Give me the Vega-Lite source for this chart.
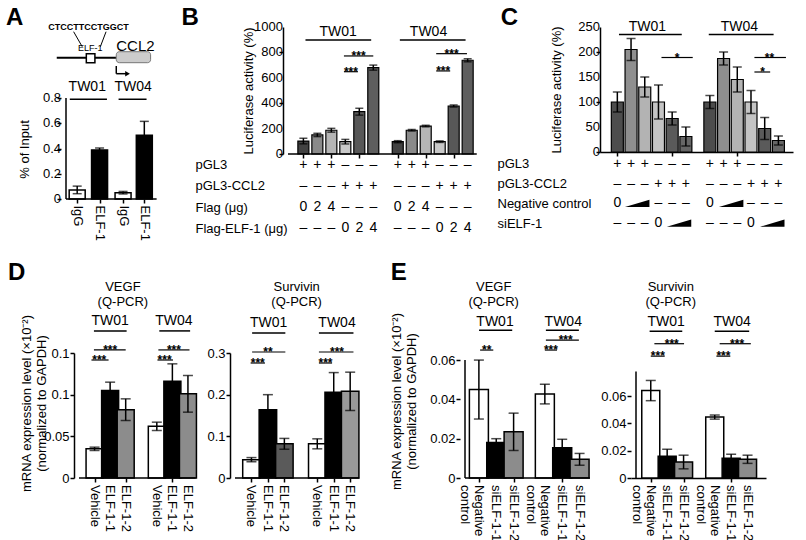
{
"$schema":"https://vega.github.io/schema/vega-lite/v6.json",
"padding":{"left":5,"top":5,"right":5,"bottom":0},
"config":{
 "font":"Liberation Sans",
 "view":{"stroke":null},
 "axis":{"grid":false,"domainColor":"black","domainWidth":1.5,"tickColor":"black","tickWidth":1.5,"tickSize":4,"labelColor":"black","labelFontSize":13,"labelPadding":1,"labelOverlap":false,"titleColor":"black","titleFontSize":13,"titleFontWeight":"normal","titlePadding":2},
 "text":{"color":"black"}
},
"datasets":{
"b_ticks":[{"tick":0},{"tick":200},{"tick":400},{"tick":600},{"tick":800},{"tick":1000}],
"c_ticks":[{"tick":0},{"tick":50},{"tick":100},{"tick":150},{"tick":200},{"tick":250}],
"a_bars":[{"pos":1,"ab":"IgG","cell":"TW01","mean":0.072,"err":0.03},{"pos":2,"ab":"ELF-1","cell":"TW01","mean":0.389,"err":0.015},{"pos":3.05,"ab":"IgG","cell":"TW04","mean":0.05,"err":0.01},{"pos":4,"ab":"ELF-1","cell":"TW04","mean":0.505,"err":0.11}],
"a_tw":[{"x1":0.67,"x2":2.33,"xm":1.45,"y":0.79,"label":"TW01"},{"x1":2.85,"x2":4.1,"xm":3.5,"y":0.79,"label":"TW04"}],
"b_bars":[{"pos":1,"cell":"TW01","k":"c1","mean":102,"err":22},{"pos":2,"cell":"TW01","k":"c2","mean":150,"err":13},{"pos":3,"cell":"TW01","k":"c3","mean":187,"err":15},{"pos":4,"cell":"TW01","k":"c4","mean":97,"err":18},{"pos":5,"cell":"TW01","k":"c5","mean":333,"err":27},{"pos":6,"cell":"TW01","k":"c6","mean":680,"err":20},{"pos":7.75,"cell":"TW04","k":"c1","mean":97,"err":8},{"pos":8.75,"cell":"TW04","k":"c2","mean":187,"err":6},{"pos":9.75,"cell":"TW04","k":"c3","mean":220,"err":6},{"pos":10.75,"cell":"TW04","k":"c4","mean":97,"err":6},{"pos":11.75,"cell":"TW04","k":"c5","mean":378,"err":8},{"pos":12.75,"cell":"TW04","k":"c6","mean":738,"err":12}],
"b_tw":[{"x1":1.15,"x2":5.85,"xm":3.48,"y":898,"label":"TW01"},{"x1":7.9,"x2":12.6,"xm":9.95,"y":898,"label":"TW04"}],
"b_sig":[{"x1":3.9,"x2":6.0,"xm":4.95,"y":772,"label":"***"},{"x1":3.9,"x2":4.9,"xm":4.4,"y":648,"label":"***"},{"x1":10.5,"x2":12.7,"xm":11.6,"y":790,"label":"***"},{"x1":10.5,"x2":11.5,"xm":11.0,"y":654,"label":"***"}],
"b_tab":[
{"row":"pGL3","pos":1,"v":"+"},{"row":"pGL3","pos":2,"v":"+"},{"row":"pGL3","pos":3,"v":"+"},{"row":"pGL3","pos":4,"v":"–"},{"row":"pGL3","pos":5,"v":"–"},{"row":"pGL3","pos":6,"v":"–"},
{"row":"pGL3","pos":7.75,"v":"+"},{"row":"pGL3","pos":8.75,"v":"+"},{"row":"pGL3","pos":9.75,"v":"+"},{"row":"pGL3","pos":10.75,"v":"–"},{"row":"pGL3","pos":11.75,"v":"–"},{"row":"pGL3","pos":12.75,"v":"–"},
{"row":"pGL3-CCL2","pos":1,"v":"–"},{"row":"pGL3-CCL2","pos":2,"v":"–"},{"row":"pGL3-CCL2","pos":3,"v":"–"},{"row":"pGL3-CCL2","pos":4,"v":"+"},{"row":"pGL3-CCL2","pos":5,"v":"+"},{"row":"pGL3-CCL2","pos":6,"v":"+"},
{"row":"pGL3-CCL2","pos":7.75,"v":"–"},{"row":"pGL3-CCL2","pos":8.75,"v":"–"},{"row":"pGL3-CCL2","pos":9.75,"v":"–"},{"row":"pGL3-CCL2","pos":10.75,"v":"+"},{"row":"pGL3-CCL2","pos":11.75,"v":"+"},{"row":"pGL3-CCL2","pos":12.75,"v":"+"},
{"row":"Flag (μg)","pos":1,"v":"0"},{"row":"Flag (μg)","pos":2,"v":"2"},{"row":"Flag (μg)","pos":3,"v":"4"},{"row":"Flag (μg)","pos":4,"v":"–"},{"row":"Flag (μg)","pos":5,"v":"–"},{"row":"Flag (μg)","pos":6,"v":"–"},
{"row":"Flag (μg)","pos":7.75,"v":"0"},{"row":"Flag (μg)","pos":8.75,"v":"2"},{"row":"Flag (μg)","pos":9.75,"v":"4"},{"row":"Flag (μg)","pos":10.75,"v":"–"},{"row":"Flag (μg)","pos":11.75,"v":"–"},{"row":"Flag (μg)","pos":12.75,"v":"–"},
{"row":"Flag-ELF-1 (μg)","pos":1,"v":"–"},{"row":"Flag-ELF-1 (μg)","pos":2,"v":"–"},{"row":"Flag-ELF-1 (μg)","pos":3,"v":"–"},{"row":"Flag-ELF-1 (μg)","pos":4,"v":"0"},{"row":"Flag-ELF-1 (μg)","pos":5,"v":"2"},{"row":"Flag-ELF-1 (μg)","pos":6,"v":"4"},
{"row":"Flag-ELF-1 (μg)","pos":7.75,"v":"–"},{"row":"Flag-ELF-1 (μg)","pos":8.75,"v":"–"},{"row":"Flag-ELF-1 (μg)","pos":9.75,"v":"–"},{"row":"Flag-ELF-1 (μg)","pos":10.75,"v":"0"},{"row":"Flag-ELF-1 (μg)","pos":11.75,"v":"2"},{"row":"Flag-ELF-1 (μg)","pos":12.75,"v":"4"}],
"c_bars":[{"pos":1,"cell":"TW01","k":"c1","mean":100,"err":20},{"pos":2,"cell":"TW01","k":"c2","mean":205,"err":22},{"pos":3,"cell":"TW01","k":"c3","mean":130,"err":20},{"pos":4,"cell":"TW01","k":"c4","mean":100,"err":34},{"pos":5,"cell":"TW01","k":"c5","mean":67,"err":13},{"pos":6,"cell":"TW01","k":"c6","mean":31,"err":19},{"pos":7.75,"cell":"TW04","k":"c1","mean":100,"err":13},{"pos":8.75,"cell":"TW04","k":"c2","mean":187,"err":13},{"pos":9.75,"cell":"TW04","k":"c3","mean":145,"err":25},{"pos":10.75,"cell":"TW04","k":"c4","mean":100,"err":23},{"pos":11.75,"cell":"TW04","k":"c5","mean":47,"err":22},{"pos":12.75,"cell":"TW04","k":"c6","mean":23,"err":9}],
"c_tw":[{"x1":1.12,"x2":5.7,"xm":3.2,"y":235,"label":"TW01"},{"x1":7.67,"x2":12.4,"xm":9.9,"y":235,"label":"TW04"}],
"c_sig":[{"x1":4.22,"x2":6.5,"xm":5.35,"y":189,"label":"*"},{"x1":11.0,"x2":13.3,"xm":12.1,"y":189,"label":"**"},{"x1":11.0,"x2":12.15,"xm":11.6,"y":160,"label":"*"}],
"c_tab":[
{"row":"pGL3","pos":1,"v":"+"},{"row":"pGL3","pos":2,"v":"+"},{"row":"pGL3","pos":3,"v":"+"},{"row":"pGL3","pos":4,"v":"–"},{"row":"pGL3","pos":5,"v":"–"},{"row":"pGL3","pos":6,"v":"–"},
{"row":"pGL3","pos":7.75,"v":"+"},{"row":"pGL3","pos":8.75,"v":"+"},{"row":"pGL3","pos":9.75,"v":"+"},{"row":"pGL3","pos":10.75,"v":"–"},{"row":"pGL3","pos":11.75,"v":"–"},{"row":"pGL3","pos":12.75,"v":"–"},
{"row":"pGL3-CCL2","pos":1,"v":"–"},{"row":"pGL3-CCL2","pos":2,"v":"–"},{"row":"pGL3-CCL2","pos":3,"v":"–"},{"row":"pGL3-CCL2","pos":4,"v":"+"},{"row":"pGL3-CCL2","pos":5,"v":"+"},{"row":"pGL3-CCL2","pos":6,"v":"+"},
{"row":"pGL3-CCL2","pos":7.75,"v":"–"},{"row":"pGL3-CCL2","pos":8.75,"v":"–"},{"row":"pGL3-CCL2","pos":9.75,"v":"–"},{"row":"pGL3-CCL2","pos":10.75,"v":"+"},{"row":"pGL3-CCL2","pos":11.75,"v":"+"},{"row":"pGL3-CCL2","pos":12.75,"v":"+"},
{"row":"Negative control","pos":1,"v":"0"},{"row":"Negative control","pos":4,"v":"–"},{"row":"Negative control","pos":5,"v":"–"},{"row":"Negative control","pos":6,"v":"–"},
{"row":"Negative control","pos":7.75,"v":"0"},{"row":"Negative control","pos":10.75,"v":"–"},{"row":"Negative control","pos":11.75,"v":"–"},{"row":"Negative control","pos":12.75,"v":"–"},
{"row":"siELF-1","pos":1,"v":"–"},{"row":"siELF-1","pos":2,"v":"–"},{"row":"siELF-1","pos":3,"v":"–"},{"row":"siELF-1","pos":4,"v":"0"},
{"row":"siELF-1","pos":7.75,"v":"–"},{"row":"siELF-1","pos":8.75,"v":"–"},{"row":"siELF-1","pos":9.75,"v":"–"},{"row":"siELF-1","pos":10.75,"v":"0"}],
"c_wedge":[{"row":"Negative control","pos":2.45},{"row":"Negative control","pos":9.3},{"row":"siELF-1","pos":5.5},{"row":"siELF-1","pos":12.3}],
"dv":[{"pos":1,"cell":"TW01","treat":"Vehicle","mean":0.035,"err":0.002},{"pos":2,"cell":"TW01","treat":"ELF-1-1","mean":0.105,"err":0.01},{"pos":3,"cell":"TW01","treat":"ELF-1-2","mean":0.082,"err":0.013},{"pos":5,"cell":"TW04","treat":"Vehicle","mean":0.062,"err":0.005},{"pos":6,"cell":"TW04","treat":"ELF-1-1","mean":0.116,"err":0.021},{"pos":7,"cell":"TW04","treat":"ELF-1-2","mean":0.101,"err":0.022}],
"dv_tw":[{"x1":0.96,"x2":3.06,"xm":2.0,"y":0.1765,"label":"TW01"},{"x1":5.16,"x2":7.14,"xm":6.1,"y":0.1765,"label":"TW04"}],
"dv_sig":[{"x1":0.96,"x2":3.0,"xm":2.0,"y":0.1537,"label":"***"},{"x1":0.8,"x2":1.9,"xm":1.3,"y":0.1416,"label":"***"},{"x1":5.1,"x2":7.1,"xm":6.1,"y":0.1537,"label":"***"},{"x1":5.04,"x2":6.04,"xm":5.5,"y":0.1416,"label":"***"}],
"ds":[{"pos":1,"cell":"TW01","treat":"Vehicle","mean":0.044,"err":0.005},{"pos":2,"cell":"TW01","treat":"ELF-1-1","mean":0.164,"err":0.036},{"pos":3,"cell":"TW01","treat":"ELF-1-2","mean":0.082,"err":0.013},{"pos":5,"cell":"TW04","treat":"Vehicle","mean":0.082,"err":0.012},{"pos":6,"cell":"TW04","treat":"ELF-1-1","mean":0.206,"err":0.047},{"pos":7,"cell":"TW04","treat":"ELF-1-2","mean":0.208,"err":0.046}],
"ds_tw":[{"x1":1.04,"x2":3.06,"xm":2.05,"y":0.348,"label":"TW01"},{"x1":5.1,"x2":7.2,"xm":6.2,"y":0.348,"label":"TW04"}],
"ds_sig":[{"x1":1.04,"x2":3.06,"xm":2.0,"y":0.3024,"label":"**"},{"x1":0.95,"x2":1.82,"xm":1.38,"y":0.276,"label":"***"},{"x1":5.1,"x2":7.2,"xm":6.2,"y":0.3024,"label":"***"},{"x1":5.1,"x2":5.9,"xm":5.5,"y":0.276,"label":"***"}],
"ev":[{"pos":1,"cell":"TW01","treat":"Negative control","mean":0.045,"err":0.015},{"pos":2,"cell":"TW01","treat":"siELF-1-1","mean":0.018,"err":0.002},{"pos":3,"cell":"TW01","treat":"siELF-1-2","mean":0.0235,"err":0.0095},{"pos":4.8,"cell":"TW04","treat":"Negative control","mean":0.0427,"err":0.005},{"pos":5.8,"cell":"TW04","treat":"siELF-1-1","mean":0.0154,"err":0.0043},{"pos":6.8,"cell":"TW04","treat":"siELF-1-2","mean":0.0095,"err":0.003}],
"ev_tw":[{"x1":1.01,"x2":2.92,"xm":1.93,"y":0.0752,"label":"TW01"},{"x1":4.86,"x2":6.76,"xm":5.86,"y":0.0752,"label":"TW04"}],
"ev_sig":[{"x1":1.07,"x2":1.83,"xm":1.45,"y":0.0651,"label":"**"},{"x1":4.86,"x2":6.76,"xm":6.0,"y":0.0702,"label":"***"},{"x1":4.8,"x2":5.5,"xm":5.15,"y":0.0651,"label":"***"}],
"es":[{"pos":1,"cell":"TW01","treat":"Negative control","mean":0.064,"err":0.0074},{"pos":2,"cell":"TW01","treat":"siELF-1-1","mean":0.016,"err":0.005},{"pos":3,"cell":"TW01","treat":"siELF-1-2","mean":0.0117,"err":0.005},{"pos":4.9,"cell":"TW04","treat":"Negative control","mean":0.0446,"err":0.0015},{"pos":5.9,"cell":"TW04","treat":"siELF-1-1","mean":0.0144,"err":0.003},{"pos":6.9,"cell":"TW04","treat":"siELF-1-2","mean":0.0137,"err":0.003}],
"es_tw":[{"x1":0.93,"x2":2.92,"xm":1.94,"y":0.1075,"label":"TW01"},{"x1":4.9,"x2":7.0,"xm":5.96,"y":0.1075,"label":"TW04"}],
"es_sig":[{"x1":1.22,"x2":3.03,"xm":2.28,"y":0.0983,"label":"***"},{"x1":1.0,"x2":1.85,"xm":1.43,"y":0.0892,"label":"***"},{"x1":5.2,"x2":7.1,"xm":6.26,"y":0.0983,"label":"***"},{"x1":5.0,"x2":5.85,"xm":5.43,"y":0.0892,"label":"***"}]
},
"spacing":20,
"resolve":{"scale":{"color":"independent"}},
"vconcat":[
{"hconcat":[
{"width":217,"height":172,
 "layer":[
  {"data":{"name":"a_bars"},"mark":{"type":"bar","orient":"vertical","width":16,"stroke":"black","strokeWidth":1.5},
   "encoding":{"x":{"field":"pos","type":"quantitative","scale":{"domain":[0.5,9.751],"nice":false,"zero":false},"axis":{"values":[1,2,3.05,4],"labelAngle":90,"labelExpr":"round(datum.value) % 2 == 1 ? 'IgG' : 'ELF-1'","title":null,"labelPadding":2,"domain":false,"labelOverlap":false}},
    "y":{"field":"mean","type":"quantitative","scale":{"domain":[0,1.3624],"nice":false},"axis":{"values":[0,0.2,0.4,0.6,0.8],"labels":false,"title":"% of Input","domain":false,"titleY":122,"titleX":-30}},
    "color":{"field":"ab","type":"nominal","scale":{"domain":["IgG","ELF-1"],"range":["white","black"]},"legend":null}}},
  {"data":{"name":"a_bars"},"mark":{"type":"errorbar","ticks":true,"size":9,"thickness":1.5,"color":"black"},
   "encoding":{"x":{"field":"pos","type":"quantitative","title":null},"y":{"field":"mean","type":"quantitative","title":"% of Input"},"yError":{"field":"err"}}},
  {"data":{"values":[{}]},"mark":{"type":"text","text":"0","fontSize":13,"align":"right","baseline":"middle","dx":-5,"color":"black"},"encoding":{"x":{"datum":0.5,"type":"quantitative"},"y":{"datum":0,"type":"quantitative"}}},
  {"data":{"values":[{}]},"mark":{"type":"text","text":"0.2","fontSize":13,"align":"right","baseline":"middle","dx":-5,"color":"black"},"encoding":{"x":{"datum":0.5,"type":"quantitative"},"y":{"datum":0.2,"type":"quantitative"}}},
  {"data":{"values":[{}]},"mark":{"type":"text","text":"0.4","fontSize":13,"align":"right","baseline":"middle","dx":-5,"color":"black"},"encoding":{"x":{"datum":0.5,"type":"quantitative"},"y":{"datum":0.4,"type":"quantitative"}}},
  {"data":{"values":[{}]},"mark":{"type":"text","text":"0.6","fontSize":13,"align":"right","baseline":"middle","dx":-5,"color":"black"},"encoding":{"x":{"datum":0.5,"type":"quantitative"},"y":{"datum":0.6,"type":"quantitative"}}},
  {"data":{"values":[{}]},"mark":{"type":"text","text":"0.8","fontSize":13,"align":"right","baseline":"middle","dx":-5,"color":"black"},"encoding":{"x":{"datum":0.5,"type":"quantitative"},"y":{"datum":0.8,"type":"quantitative"}}},
  {"data":{"values":[{}]},"mark":{"type":"rule","strokeWidth":1.5,"color":"black"},"encoding":{"x":{"datum":0.5,"type":"quantitative"},"y":{"datum":0,"type":"quantitative"},"y2":{"datum":0.8}}},
  {"data":{"values":[{}]},"mark":{"type":"rule","strokeWidth":1.5,"color":"black"},"encoding":{"x":{"datum":0.5,"type":"quantitative"},"x2":{"datum":4.55},"y":{"datum":0,"type":"quantitative"}}},
  {"data":{"name":"a_tw"},"mark":{"type":"rule","strokeWidth":1.5,"color":"black"},
   "encoding":{"x":{"field":"x1","type":"quantitative","title":null},"x2":{"field":"x2"},"y":{"field":"y","type":"quantitative","title":"% of Input"}}},
  {"data":{"name":"a_tw"},"mark":{"type":"text","fontSize":14,"baseline":"alphabetic","dy":-8,"color":"black"},
   "encoding":{"x":{"field":"xm","type":"quantitative","title":null},"y":{"field":"y","type":"quantitative","title":"% of Input"},"text":{"field":"label"}}},
  {"data":{"values":[{"x":0.0865,"y":1.1192,"x2":2.7467,"y2":1.1192}]},"mark":{"type":"rule","strokeWidth":2,"color":"black"},
   "encoding":{"x":{"field":"x","type":"quantitative","title":null},"y":{"field":"y","type":"quantitative","title":"% of Input"},"x2":{"field":"x2"},"y2":{"field":"y2"}}},
  {"data":{"values":[{"x":0.841,"y":1.3251,"x2":1.225,"y2":1.2063},{"x":2.29,"y":1.3251,"x2":2.035,"y2":1.2063}]},"mark":{"type":"rule","strokeWidth":1,"color":"black"},
   "encoding":{"x":{"field":"x","type":"quantitative","title":null},"y":{"field":"y","type":"quantitative","title":"% of Input"},"x2":{"field":"x2"},"y2":{"field":"y2"}}},
  {"data":{"values":[{"x":2.747,"y":1.0535,"x2":2.747,"y2":0.9925},{"x":2.747,"y":0.9925,"x2":3.186,"y2":0.9925}]},"mark":{"type":"rule","strokeWidth":1.5,"color":"black"},
   "encoding":{"x":{"field":"x","type":"quantitative","title":null},"y":{"field":"y","type":"quantitative","title":"% of Input"},"x2":{"field":"x2"},"y2":{"field":"y2"}}},
  {"data":{"values":[{"x":3.25,"y":0.9925}]},"mark":{"type":"point","shape":"triangle-right","size":30,"filled":true,"color":"black","opacity":1},
   "encoding":{"x":{"field":"x","type":"quantitative","title":null},"y":{"field":"y","type":"quantitative","title":"% of Input"}}},
  {"data":{"values":[{"x":1.408,"x2":1.792,"y":1.1509,"y2":1.0796}]},"mark":{"type":"rect","fill":"white","stroke":"black","strokeWidth":1.5},
   "encoding":{"x":{"field":"x","type":"quantitative","title":null},"y":{"field":"y","type":"quantitative","title":"% of Input"},"x2":{"field":"x2"},"y2":{"field":"y2"}}},
  {"data":{"values":[{"x":2.747,"x2":4.281,"y":1.1667,"y2":1.0796}]},"mark":{"type":"rect","fill":"#cccccc","stroke":"#777777","strokeWidth":1,"cornerRadius":3},
   "encoding":{"x":{"field":"x","type":"quantitative","title":null},"y":{"field":"y","type":"quantitative","title":"% of Input"},"x2":{"field":"x2"},"y2":{"field":"y2"}}},
  {"data":{"values":[{"x":1.51,"y":1.3663,"s":"CTCCTTCCTGGCT"}]},"mark":{"type":"text","fontSize":9,"fontWeight":"bold","baseline":"middle","color":"black"},
   "encoding":{"x":{"field":"x","type":"quantitative","title":null},"y":{"field":"y","type":"quantitative","title":"% of Input"},"text":{"field":"s"}}},
  {"data":{"values":[{"x":1.579,"y":1.1965,"s":"ELF-1"}]},"mark":{"type":"text","fontSize":9,"baseline":"middle","color":"black"},
   "encoding":{"x":{"field":"x","type":"quantitative","title":null},"y":{"field":"y","type":"quantitative","title":"% of Input"},"text":{"field":"s"}}},
  {"data":{"values":[{"x":3.604,"y":1.2143,"s":"CCL2"}]},"mark":{"type":"text","fontSize":15,"baseline":"middle","color":"black"},
   "encoding":{"x":{"field":"x","type":"quantitative","title":null},"y":{"field":"y","type":"quantitative","title":"% of Input"},"text":{"field":"s"}}},
  {"data":{"values":[{}]},"mark":{"type":"text","text":"A","fontSize":24,"fontWeight":"bold","align":"left","baseline":"top","color":"black"},"encoding":{"x":{"datum":-2.186,"type":"quantitative"},"y":{"datum":1.5287,"type":"quantitative"}}}
 ]},
{"width":312,"height":127,
 "resolve":{"scale":{"y":"independent"}},
 "layer":[
  {"layer":[
   {"data":{"name":"b_bars"},"mark":{"type":"bar","orient":"vertical","width":11,"stroke":"black","strokeWidth":1.2},
    "encoding":{"x":{"field":"pos","type":"quantitative","scale":{"domain":[-0.1,21.5],"nice":false,"zero":false},"axis":{"values":[1,2,3,4,5,6,7.75,8.75,9.75,10.75,11.75,12.75],"labels":false,"title":null,"domain":false}},
     "y":{"field":"mean","type":"quantitative","scale":{"domain":[0,1000],"nice":false},"axis":{"values":[0,200,400,600,800,1000],"labels":false,"title":"Luciferase activity (%)","titleX":-28}},
     "color":{"field":"k","type":"nominal","scale":{"domain":["c1","c2","c3","c4","c5","c6"],"range":["#424242","#8a8a8a","#b5b5b5","#c9c9c9","#585858","#5e5e5e"]},"legend":null}}},
   {"data":{"name":"b_bars"},"mark":{"type":"errorbar","ticks":true,"size":8,"thickness":1.5,"color":"black"},
    "encoding":{"x":{"field":"pos","type":"quantitative","title":null},"y":{"field":"mean","type":"quantitative","title":"Luciferase activity (%)"},"yError":{"field":"err"}}},
   {"data":{"name":"b_ticks"},"mark":{"type":"text","fontSize":13,"align":"right","baseline":"middle","dx":-5,"color":"black"},
    "encoding":{"x":{"datum":-0.1,"type":"quantitative"},"y":{"field":"tick","type":"quantitative","title":"Luciferase activity (%)"},"text":{"field":"tick","type":"quantitative","format":"~g"}}},
   {"data":{"values":[{}]},"mark":{"type":"rule","strokeWidth":1.5,"color":"black"},"encoding":{"x":{"datum":-0.1,"type":"quantitative"},"x2":{"datum":13.4},"y":{"datum":0,"type":"quantitative"}}},
   {"data":{"name":"b_tw"},"mark":{"type":"rule","strokeWidth":1.5,"color":"black"},
    "encoding":{"x":{"field":"x1","type":"quantitative","title":null},"x2":{"field":"x2"},"y":{"field":"y","type":"quantitative","title":"Luciferase activity (%)"}}},
   {"data":{"name":"b_tw"},"mark":{"type":"text","fontSize":14,"baseline":"alphabetic","dy":-4,"color":"black"},
    "encoding":{"x":{"field":"xm","type":"quantitative","title":null},"y":{"field":"y","type":"quantitative","title":"Luciferase activity (%)"},"text":{"field":"label"}}},
   {"data":{"name":"b_sig"},"mark":{"type":"rule","strokeWidth":1.2,"color":"black"},
    "encoding":{"x":{"field":"x1","type":"quantitative","title":null},"x2":{"field":"x2"},"y":{"field":"y","type":"quantitative","title":"Luciferase activity (%)"}}},
   {"data":{"name":"b_sig"},"mark":{"type":"text","fontSize":12,"fontWeight":"bold","baseline":"alphabetic","dy":4,"color":"black"},
    "encoding":{"x":{"field":"xm","type":"quantitative","title":null},"y":{"field":"y","type":"quantitative","title":"Luciferase activity (%)"},"text":{"field":"label"}}},
   {"data":{"values":[{}]},"mark":{"type":"text","text":"B","fontSize":24,"fontWeight":"bold","align":"left","baseline":"top","color":"black"},"encoding":{"x":{"datum":-7.716,"type":"quantitative"},"y":{"datum":1165.4,"type":"quantitative"}}}
  ]},
  {"data":{"name":"b_tab"},"mark":{"type":"text","fontSize":14,"color":"black"},
   "encoding":{"x":{"field":"pos","type":"quantitative","title":null},
    "y":{"field":"row","type":"nominal","sort":["pGL3","pGL3-CCL2","Flag (μg)","Flag-ELF-1 (μg)"],"scale":{"type":"point","range":[137.6,201.4],"padding":0},"axis":{"orient":"left","title":null,"domain":false,"ticks":false,"labelAlign":"left","labelPadding":88,"labelFontSize":13,"labelOverlap":false}},
    "text":{"field":"v","type":"nominal"}}}
 ]},
{"width":193,"height":125,
 "resolve":{"scale":{"y":"independent"}},
 "layer":[
  {"layer":[
   {"data":{"name":"c_bars"},"mark":{"type":"bar","orient":"vertical","width":12,"stroke":"black","strokeWidth":1.2},
    "encoding":{"x":{"field":"pos","type":"quantitative","scale":{"domain":[0.1,13.45],"nice":false,"zero":false},"axis":{"values":[1,2,3,4,5,6,7.75,8.75,9.75,10.75,11.75,12.75],"labels":false,"title":null}},
     "y":{"field":"mean","type":"quantitative","scale":{"domain":[0,250],"nice":false},"axis":{"values":[0,50,100,150,200,250],"labels":false,"title":"Luciferase activity (%)","titleX":-37}},
     "color":{"field":"k","type":"nominal","scale":{"domain":["c1","c2","c3","c4","c5","c6"],"range":["#4d4d4d","#8f8f8f","#b3b3b3","#c4c4c4","#5a5a5a","#666666"]},"legend":null}}},
   {"data":{"name":"c_bars"},"mark":{"type":"errorbar","ticks":true,"size":9,"thickness":1.5,"color":"black"},
    "encoding":{"x":{"field":"pos","type":"quantitative","title":null},"y":{"field":"mean","type":"quantitative","title":"Luciferase activity (%)"},"yError":{"field":"err"}}},
   {"data":{"name":"c_ticks"},"mark":{"type":"text","fontSize":13,"align":"right","baseline":"middle","dx":-5,"color":"black"},
    "encoding":{"x":{"datum":0.1,"type":"quantitative"},"y":{"field":"tick","type":"quantitative","title":"Luciferase activity (%)"},"text":{"field":"tick","type":"quantitative","format":"~g"}}},
   {"data":{"name":"c_tw"},"mark":{"type":"rule","strokeWidth":1.5,"color":"black"},
    "encoding":{"x":{"field":"x1","type":"quantitative","title":null},"x2":{"field":"x2"},"y":{"field":"y","type":"quantitative","title":"Luciferase activity (%)"}}},
   {"data":{"name":"c_tw"},"mark":{"type":"text","fontSize":14,"baseline":"alphabetic","dy":-4,"color":"black"},
    "encoding":{"x":{"field":"xm","type":"quantitative","title":null},"y":{"field":"y","type":"quantitative","title":"Luciferase activity (%)"},"text":{"field":"label"}}},
   {"data":{"name":"c_sig"},"mark":{"type":"rule","strokeWidth":1.2,"color":"black"},
    "encoding":{"x":{"field":"x1","type":"quantitative","title":null},"x2":{"field":"x2"},"y":{"field":"y","type":"quantitative","title":"Luciferase activity (%)"}}},
   {"data":{"name":"c_sig"},"mark":{"type":"text","fontSize":12,"fontWeight":"bold","baseline":"alphabetic","dy":4,"color":"black"},
    "encoding":{"x":{"field":"xm","type":"quantitative","title":null},"y":{"field":"y","type":"quantitative","title":"Luciferase activity (%)"},"text":{"field":"label"}}},
   {"data":{"values":[{}]},"mark":{"type":"text","text":"C","fontSize":24,"fontWeight":"bold","align":"left","baseline":"top","color":"black"},"encoding":{"x":{"datum":-7.509,"type":"quantitative"},"y":{"datum":292,"type":"quantitative"}}}
  ]},
  {"layer":[
   {"data":{"name":"c_tab"},"mark":{"type":"text","fontSize":14,"color":"black"},
    "encoding":{"x":{"field":"pos","type":"quantitative","title":null},
     "y":{"field":"row","type":"nominal","sort":["pGL3","pGL3-CCL2","Negative control","siELF-1"],"scale":{"type":"point","range":[136.9,196.1],"padding":0},"axis":{"orient":"left","title":null,"domain":false,"ticks":false,"labelAlign":"left","labelPadding":103,"labelFontSize":13,"labelOverlap":false}},
     "text":{"field":"v","type":"nominal"}}},
   {"data":{"name":"c_wedge"},"mark":{"type":"point","shape":"M -1 0.3 L 1 -0.3 L 1 0.3 Z","size":600,"filled":true,"color":"black","opacity":1,"strokeWidth":0},
    "encoding":{"x":{"field":"pos","type":"quantitative","title":null},"y":{"field":"row","type":"nominal","sort":["pGL3","pGL3-CCL2","Negative control","siELF-1"]}}}
  ]}
 ]}
],"bounds":"flush","spacing":5,"resolve":{"scale":{"color":"independent"}}},
{"hconcat":[
{"width":8,"height":1,"data":{"values":[]},"mark":{"type":"point","opacity":0}},
{"width":151,"height":125,
 "layer":[
  {"data":{"name":"dv"},"mark":{"type":"bar","orient":"vertical","width":17,"stroke":"black","strokeWidth":1.5},
   "encoding":{"x":{"field":"pos","type":"quantitative","scale":{"domain":[0,9.06],"nice":false,"zero":false},"axis":{"values":[1,2,3,5,6,7],"labels":false,"title":null,"domain":false}},
    "y":{"field":"mean","type":"quantitative","scale":{"domain":[0,0.15],"nice":false},"axis":{"values":[0,0.05,0.1,0.15],"format":"~g","title":["mRNA expression level (×10⁻²)","(normalized to GAPDH)"],"titleY":50,"titleX":-41,"labelOverlap":false}},
    "color":{"field":"treat","type":"nominal","scale":{"domain":["Vehicle","ELF-1-1","ELF-1-2"],"range":["white","black","#8c8c8c"]},"legend":null}}},
  {"data":{"name":"dv"},"mark":{"type":"errorbar","ticks":true,"size":10,"thickness":1.5,"color":"black"},
   "encoding":{"x":{"field":"pos","type":"quantitative","title":null},"y":{"field":"mean","type":"quantitative","title":["mRNA expression level (×10⁻²)","(normalized to GAPDH)"]},"yError":{"field":"err"}}},
  {"data":{"name":"dv"},"mark":{"type":"text","fontSize":13,"angle":90,"align":"left","baseline":"middle","dx":7,"color":"black"},
   "encoding":{"x":{"field":"pos","type":"quantitative","title":null},"y":{"datum":0,"type":"quantitative"},"text":{"field":"treat"}}},
  {"data":{"values":[{}]},"mark":{"type":"rule","strokeWidth":1.5,"color":"black"},"encoding":{"x":{"datum":0,"type":"quantitative"},"x2":{"datum":7.5},"y":{"datum":0,"type":"quantitative"}}},
  {"data":{"name":"dv_tw"},"mark":{"type":"rule","strokeWidth":1.5,"color":"black"},
   "encoding":{"x":{"field":"x1","type":"quantitative","title":null},"x2":{"field":"x2"},"y":{"field":"y","type":"quantitative","title":["mRNA expression level (×10⁻²)","(normalized to GAPDH)"]}}},
  {"data":{"name":"dv_tw"},"mark":{"type":"text","fontSize":14,"baseline":"alphabetic","dy":-6,"color":"black"},
   "encoding":{"x":{"field":"xm","type":"quantitative","title":null},"y":{"field":"y","type":"quantitative","title":["mRNA expression level (×10⁻²)","(normalized to GAPDH)"]},"text":{"field":"label"}}},
  {"data":{"name":"dv_sig"},"mark":{"type":"rule","strokeWidth":1.2,"color":"black"},
   "encoding":{"x":{"field":"x1","type":"quantitative","title":null},"x2":{"field":"x2"},"y":{"field":"y","type":"quantitative","title":["mRNA expression level (×10⁻²)","(normalized to GAPDH)"]}}},
  {"data":{"name":"dv_sig"},"mark":{"type":"text","fontSize":12,"fontWeight":"bold","baseline":"alphabetic","dy":4,"color":"black"},
   "encoding":{"x":{"field":"xm","type":"quantitative","title":null},"y":{"field":"y","type":"quantitative","title":["mRNA expression level (×10⁻²)","(normalized to GAPDH)"]},"text":{"field":"label"}}},
  {"data":{"values":[{}]},"mark":{"type":"text","text":["VEGF","(Q-PCR)"],"fontSize":13,"baseline":"top","lineHeight":15,"color":"black"},"encoding":{"x":{"datum":2.82,"type":"quantitative"},"y":{"datum":0.2364,"type":"quantitative"}}},
  {"data":{"values":[{}]},"mark":{"type":"text","text":"D","fontSize":24,"fontWeight":"bold","align":"left","baseline":"top","color":"black"},"encoding":{"x":{"datum":-4.56,"type":"quantitative"},"y":{"datum":0.2599,"type":"quantitative"}}}
 ]},
{"width":225,"height":125,
 "layer":[
  {"data":{"name":"ds"},"mark":{"type":"bar","orient":"vertical","width":17.5,"stroke":"black","strokeWidth":1.5},
   "encoding":{"x":{"field":"pos","type":"quantitative","scale":{"domain":[0,13.067],"nice":false,"zero":false},"axis":{"values":[1,2,3,5,6,7],"labels":false,"title":null,"domain":false}},
    "y":{"field":"mean","type":"quantitative","scale":{"domain":[0,0.3],"nice":false},"axis":{"values":[0,0.1,0.2,0.3],"format":"~g","title":null,"labelOverlap":false}},
    "color":{"condition":{"test":"datum.cell=='TW01' && datum.treat=='ELF-1-2'","value":"#5a5a5a"},"field":"treat","type":"nominal","scale":{"domain":["Vehicle","ELF-1-1","ELF-1-2"],"range":["white","black","#999999"]},"legend":null}}},
  {"data":{"name":"ds"},"mark":{"type":"errorbar","ticks":true,"size":10,"thickness":1.5,"color":"black"},
   "encoding":{"x":{"field":"pos","type":"quantitative","title":null},"y":{"field":"mean","type":"quantitative","title":null},"yError":{"field":"err"}}},
  {"data":{"name":"ds"},"mark":{"type":"text","fontSize":13,"angle":90,"align":"left","baseline":"middle","dx":7,"color":"black"},
   "encoding":{"x":{"field":"pos","type":"quantitative","title":null},"y":{"datum":0,"type":"quantitative"},"text":{"field":"treat"}}},
  {"data":{"values":[{}]},"mark":{"type":"rule","strokeWidth":1.5,"color":"black"},"encoding":{"x":{"datum":0,"type":"quantitative"},"x2":{"datum":7.55},"y":{"datum":0,"type":"quantitative"}}},
  {"data":{"name":"ds_tw"},"mark":{"type":"rule","strokeWidth":1.5,"color":"black"},
   "encoding":{"x":{"field":"x1","type":"quantitative","title":null},"x2":{"field":"x2"},"y":{"field":"y","type":"quantitative","title":null}}},
  {"data":{"name":"ds_tw"},"mark":{"type":"text","fontSize":14,"baseline":"alphabetic","dy":-6,"color":"black"},
   "encoding":{"x":{"field":"xm","type":"quantitative","title":null},"y":{"field":"y","type":"quantitative","title":null},"text":{"field":"label"}}},
  {"data":{"name":"ds_sig"},"mark":{"type":"rule","strokeWidth":1.2,"color":"black"},
   "encoding":{"x":{"field":"x1","type":"quantitative","title":null},"x2":{"field":"x2"},"y":{"field":"y","type":"quantitative","title":null}}},
  {"data":{"name":"ds_sig"},"mark":{"type":"text","fontSize":12,"fontWeight":"bold","baseline":"alphabetic","dy":4,"color":"black"},
   "encoding":{"x":{"field":"xm","type":"quantitative","title":null},"y":{"field":"y","type":"quantitative","title":null},"text":{"field":"label"}}},
  {"data":{"values":[{}]},"mark":{"type":"text","text":["Survivin","(Q-PCR)"],"fontSize":13,"baseline":"top","lineHeight":15,"color":"black"},"encoding":{"x":{"datum":3.746,"type":"quantitative"},"y":{"datum":0.4728,"type":"quantitative"}}}
 ]},
{"width":166,"height":125,
 "layer":[
  {"data":{"name":"ev"},"mark":{"type":"bar","orient":"vertical","width":19,"stroke":"black","strokeWidth":1.5},
   "encoding":{"x":{"field":"pos","type":"quantitative","scale":{"domain":[0.2,9.187],"nice":false,"zero":false},"axis":{"values":[1,2,3,4.8,5.8,6.8],"labels":false,"title":null,"domain":false}},
    "y":{"field":"mean","type":"quantitative","scale":{"domain":[0,0.0636],"nice":false},"axis":{"values":[0,0.02,0.04,0.06],"format":"~g","domain":false,"title":["mRNA expression level (×10⁻²)","(normalized to GAPDH)"],"titleY":48,"titleX":-57,"labelOverlap":false}},
    "color":{"field":"treat","type":"nominal","scale":{"domain":["Negative control","siELF-1-1","siELF-1-2"],"range":["white","black","#8c8c8c"]},"legend":null}}},
  {"data":{"values":[{}]},"mark":{"type":"rule","strokeWidth":1.5,"color":"black"},"encoding":{"x":{"datum":0.2,"type":"quantitative"},"y":{"datum":0,"type":"quantitative"},"y2":{"datum":0.06}}},
  {"data":{"values":[{}]},"mark":{"type":"rule","strokeWidth":1.5,"color":"black"},"encoding":{"x":{"datum":0.2,"type":"quantitative"},"x2":{"datum":7.4},"y":{"datum":0,"type":"quantitative"}}},
  {"data":{"name":"ev"},"mark":{"type":"errorbar","ticks":true,"size":10,"thickness":1.5,"color":"black"},
   "encoding":{"x":{"field":"pos","type":"quantitative","title":null},"y":{"field":"mean","type":"quantitative","title":["mRNA expression level (×10⁻²)","(normalized to GAPDH)"]},"yError":{"field":"err"}}},
  {"data":{"name":"ev"},"mark":{"type":"text","fontSize":13,"angle":90,"align":"left","baseline":"middle","dx":7,"lineBreak":" ","lineHeight":14,"color":"black"},
   "encoding":{"x":{"field":"pos","type":"quantitative","title":null},"y":{"datum":0,"type":"quantitative"},"text":{"field":"treat"}}},
  {"data":{"name":"ev_tw"},"mark":{"type":"rule","strokeWidth":1.5,"color":"black"},
   "encoding":{"x":{"field":"x1","type":"quantitative","title":null},"x2":{"field":"x2"},"y":{"field":"y","type":"quantitative","title":["mRNA expression level (×10⁻²)","(normalized to GAPDH)"]}}},
  {"data":{"name":"ev_tw"},"mark":{"type":"text","fontSize":14,"baseline":"alphabetic","dy":-4,"color":"black"},
   "encoding":{"x":{"field":"xm","type":"quantitative","title":null},"y":{"field":"y","type":"quantitative","title":["mRNA expression level (×10⁻²)","(normalized to GAPDH)"]},"text":{"field":"label"}}},
  {"data":{"name":"ev_sig"},"mark":{"type":"rule","strokeWidth":1.2,"color":"black"},
   "encoding":{"x":{"field":"x1","type":"quantitative","title":null},"x2":{"field":"x2"},"y":{"field":"y","type":"quantitative","title":["mRNA expression level (×10⁻²)","(normalized to GAPDH)"]}}},
  {"data":{"name":"ev_sig"},"mark":{"type":"text","fontSize":12,"fontWeight":"bold","baseline":"alphabetic","dy":4,"color":"black"},
   "encoding":{"x":{"field":"xm","type":"quantitative","title":null},"y":{"field":"y","type":"quantitative","title":["mRNA expression level (×10⁻²)","(normalized to GAPDH)"]},"text":{"field":"label"}}},
  {"data":{"values":[{}]},"mark":{"type":"text","text":["VEGF","(Q-PCR)"],"fontSize":13,"baseline":"top","lineHeight":15,"color":"black"},"encoding":{"x":{"datum":1.851,"type":"quantitative"},"y":{"datum":0.1002,"type":"quantitative"}}},
  {"data":{"values":[{}]},"mark":{"type":"text","text":"E","fontSize":24,"fontWeight":"bold","align":"left","baseline":"top","color":"black"},"encoding":{"x":{"datum":-4.077,"type":"quantitative"},"y":{"datum":0.1102,"type":"quantitative"}}}
 ]},
{"width":135,"height":125,
 "layer":[
  {"data":{"name":"es"},"mark":{"type":"bar","orient":"vertical","width":18,"stroke":"black","strokeWidth":1.5},
   "encoding":{"x":{"field":"pos","type":"quantitative","scale":{"domain":[0.1,7.72],"nice":false,"zero":false},"axis":{"values":[1,2,3,4.9,5.9,6.9],"labels":false,"title":null}},
    "y":{"field":"mean","type":"quantitative","scale":{"domain":[0,0.0915],"nice":false},"axis":{"values":[0,0.02,0.04,0.06],"format":"~g","domain":false,"title":null,"labelOverlap":false}},
    "color":{"field":"treat","type":"nominal","scale":{"domain":["Negative control","siELF-1-1","siELF-1-2"],"range":["white","black","#8c8c8c"]},"legend":null}}},
  {"data":{"values":[{}]},"mark":{"type":"rule","strokeWidth":1.5,"color":"black"},"encoding":{"x":{"datum":0.1,"type":"quantitative"},"y":{"datum":0,"type":"quantitative"},"y2":{"datum":0.078}}},
  {"data":{"name":"es"},"mark":{"type":"errorbar","ticks":true,"size":10,"thickness":1.5,"color":"black"},
   "encoding":{"x":{"field":"pos","type":"quantitative","title":null},"y":{"field":"mean","type":"quantitative","title":null},"yError":{"field":"err"}}},
  {"data":{"name":"es"},"mark":{"type":"text","fontSize":13,"angle":90,"align":"left","baseline":"middle","dx":7,"lineBreak":" ","lineHeight":14,"color":"black"},
   "encoding":{"x":{"field":"pos","type":"quantitative","title":null},"y":{"datum":0,"type":"quantitative"},"text":{"field":"treat"}}},
  {"data":{"name":"es_tw"},"mark":{"type":"rule","strokeWidth":1.5,"color":"black"},
   "encoding":{"x":{"field":"x1","type":"quantitative","title":null},"x2":{"field":"x2"},"y":{"field":"y","type":"quantitative","title":null}}},
  {"data":{"name":"es_tw"},"mark":{"type":"text","fontSize":14,"baseline":"alphabetic","dy":-5,"color":"black"},
   "encoding":{"x":{"field":"xm","type":"quantitative","title":null},"y":{"field":"y","type":"quantitative","title":null},"text":{"field":"label"}}},
  {"data":{"name":"es_sig"},"mark":{"type":"rule","strokeWidth":1.2,"color":"black"},
   "encoding":{"x":{"field":"x1","type":"quantitative","title":null},"x2":{"field":"x2"},"y":{"field":"y","type":"quantitative","title":null}}},
  {"data":{"name":"es_sig"},"mark":{"type":"text","fontSize":12,"fontWeight":"bold","baseline":"alphabetic","dy":4,"color":"black"},
   "encoding":{"x":{"field":"xm","type":"quantitative","title":null},"y":{"field":"y","type":"quantitative","title":null},"text":{"field":"label"}}},
  {"data":{"values":[{}]},"mark":{"type":"text","text":["Survivin","(Q-PCR)"],"fontSize":13,"baseline":"top","lineHeight":15,"color":"black"},"encoding":{"x":{"datum":2.222,"type":"quantitative"},"y":{"datum":0.1442,"type":"quantitative"}}}
 ]}
],"bounds":"flush","spacing":5,"resolve":{"scale":{"color":"independent"}}}
]
}
